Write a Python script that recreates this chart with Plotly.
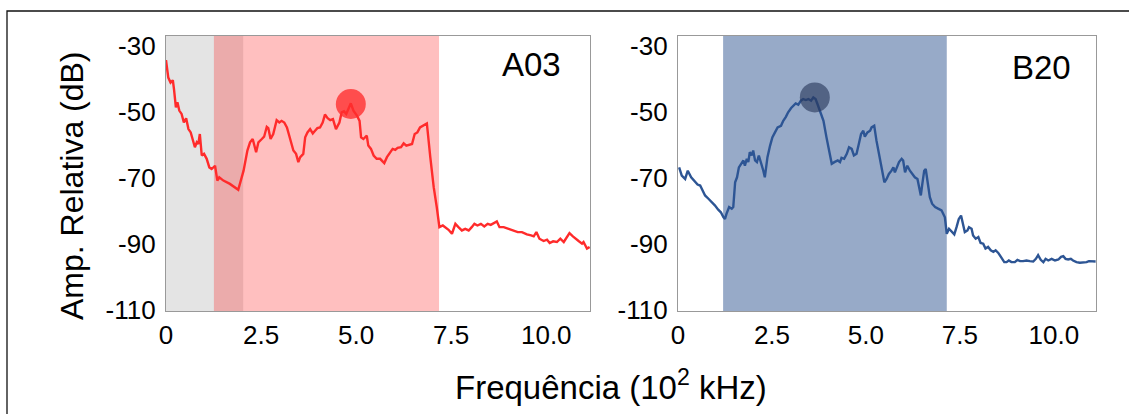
import plotly.graph_objects as go

# ---------------- data ----------------
a03_x = [0.00, 0.06, 0.12, 0.18, 0.21, 0.26, 0.30, 0.35, 0.41, 0.47, 0.53, 0.59, 0.65, 0.70, 0.76, 0.81, 0.85, 0.89, 0.94, 1.00,
         1.07, 1.14, 1.20, 1.29, 1.35, 1.40, 1.51, 1.68, 1.90, 2.04, 2.14, 2.21, 2.28, 2.37, 2.43, 2.52, 2.58, 2.65, 2.69, 2.75,
         2.82, 2.91, 2.98, 3.04, 3.11, 3.18, 3.26, 3.35, 3.42, 3.48, 3.53, 3.61, 3.66, 3.72, 3.79, 3.86, 3.92, 3.98, 4.05, 4.12,
         4.18, 4.25, 4.32, 4.39, 4.47, 4.56, 4.62, 4.68, 4.74, 4.80, 4.86, 4.93, 5.02, 5.09, 5.13, 5.19, 5.28, 5.32, 5.39, 5.46,
         5.54, 5.63, 5.74, 5.81, 5.89, 5.96, 6.03, 6.09, 6.18, 6.25, 6.32, 6.40, 6.47, 6.54, 6.61, 6.68, 6.77, 6.86, 6.95, 7.04,
         7.12, 7.19, 7.28, 7.37, 7.43, 7.52, 7.61, 7.69, 7.78, 7.87, 7.96, 8.04, 8.11, 8.19, 8.28, 8.37, 8.46, 8.54, 8.63, 8.70,
         8.77, 8.88, 9.01, 9.14, 9.25, 9.36, 9.49, 9.60, 9.67, 9.74, 9.82, 9.93, 10.02, 10.09, 10.18, 10.28, 10.37, 10.46, 10.54,
         10.61, 10.70, 10.79, 10.85, 10.94, 10.98, 11.07, 11.14]
a03_y = [-34.3, -39.6, -41.1, -40.4, -43.1, -48.6, -47.1, -49.6, -50.6, -53.2, -51.9, -55.2, -56.2, -58.2, -60.7, -59.2, -59.7, -56.7, -63.2, -62.7,
         -64.2, -66.8, -67.3, -66.3, -70.8, -69.8, -70.8, -71.8, -73.6, -67.8, -61.7, -59.2, -58.2, -62.2, -59.2, -58.2, -57.5, -54.5, -54.9, -58.2,
         -56.7, -52.5, -53.2, -52.7, -53.2, -54.7, -57.7, -61.7, -62.7, -65.2, -63.7, -62.7, -57.7, -56.2, -55.2, -56.5, -55.7, -54.9, -54.7, -53.2,
         -50.8, -51.9, -52.5, -52.2, -55.2, -53.2, -50.1, -49.8, -50.6, -49.1, -47.4, -49.6, -51.1, -52.7, -57.7, -58.2, -57.2, -60.2, -61.2, -63.2,
         -64.2, -64.2, -65.5, -63.7, -62.5, -61.2, -61.5, -60.9, -60.7, -59.5, -60.2, -59.9, -59.7, -56.7, -56.2, -54.7, -54.2, -53.5, -63.7, -72.8,
         -78.8, -84.9, -84.4, -85.1, -85.7, -86.9, -83.9, -84.9, -85.9, -85.4, -85.9, -84.9, -83.9, -84.4, -83.9, -84.7, -83.9, -84.2, -83.7, -83.2,
         -84.9, -84.9, -85.4, -85.9, -86.4, -86.4, -87.1, -87.4, -87.7, -86.4, -88.4, -89.1, -88.7, -89.7, -89.2, -89.4, -88.4, -89.4, -87.9,
         -86.7, -87.7, -88.7, -89.1, -89.9, -89.4, -91.4, -90.9]

b20_x = [0.03, 0.10, 0.19, 0.26, 0.35, 0.43, 0.52, 0.59, 0.65, 0.72, 0.81, 0.90, 0.98, 1.07, 1.14, 1.21, 1.25, 1.29, 1.36, 1.43,
         1.47, 1.52, 1.57, 1.62, 1.68, 1.74, 1.78, 1.83, 1.87, 1.91, 1.96, 2.00, 2.05, 2.10, 2.15, 2.21, 2.27, 2.31, 2.38, 2.45,
         2.51, 2.58, 2.65, 2.74, 2.80, 2.87, 2.93, 3.01, 3.07, 3.13, 3.20, 3.27, 3.33, 3.40, 3.47, 3.54, 3.60, 3.66, 3.71, 3.78,
         3.87, 3.95, 4.02, 4.09, 4.16, 4.25, 4.31, 4.35, 4.42, 4.49, 4.55, 4.62, 4.68, 4.75, 4.81, 4.87, 4.93, 4.97, 5.04, 5.11,
         5.15, 5.22, 5.28, 5.35, 5.42, 5.49, 5.55, 5.61, 5.68, 5.73, 5.77, 5.82, 5.88, 5.95, 5.99, 6.04, 6.10, 6.17, 6.23, 6.30,
         6.37, 6.44, 6.46, 6.50, 6.55, 6.59, 6.64, 6.70, 6.76, 6.84, 6.92, 7.01, 7.10, 7.15, 7.21, 7.28, 7.35, 7.41, 7.47, 7.53,
         7.59, 7.63, 7.70, 7.74, 7.81, 7.85, 7.92, 7.99, 8.05, 8.12, 8.18, 8.25, 8.32, 8.39, 8.45, 8.52, 8.59, 8.68, 8.74, 8.80,
         8.87, 8.96, 9.03, 9.10, 9.18, 9.27, 9.36, 9.45, 9.52, 9.58, 9.65, 9.72, 9.78, 9.85, 9.94, 10.03, 10.12, 10.19, 10.25, 10.31,
         10.38, 10.45, 10.51, 10.60, 10.69, 10.78, 10.87, 10.93, 11.00, 11.11]
b20_y = [-66.8, -69.3, -70.3, -67.8, -69.8, -70.8, -72.0, -72.3, -73.8, -75.3, -76.3, -77.3, -78.3, -79.6, -80.4, -81.9, -82.4, -80.9, -78.8, -79.3,
         -78.8, -71.3, -69.8, -66.8, -65.7, -64.7, -66.3, -64.2, -65.2, -62.2, -63.2, -61.7, -64.7, -65.2, -63.2, -65.2, -67.8, -69.8, -63.7, -60.2,
         -57.7, -56.2, -54.7, -54.2, -52.7, -51.5, -50.1, -48.8, -48.1, -47.4, -47.8, -46.6, -46.1, -46.4, -46.1, -46.6, -45.6, -46.1, -47.6, -49.6,
         -52.7, -57.7, -61.7, -65.7, -65.2, -64.7, -65.2, -63.9, -64.2, -62.7, -60.7, -61.2, -63.2, -62.7, -59.7, -56.7, -55.7, -57.5, -56.2, -55.7,
         -54.7, -54.2, -58.7, -63.2, -67.8, -71.3, -70.3, -68.8, -67.8, -66.8, -68.3, -66.8, -65.2, -64.2, -64.7, -68.3, -66.3, -67.8, -68.6, -69.8,
         -70.3, -73.8, -75.3, -71.8, -67.8, -67.3, -70.8, -75.8, -77.8, -78.8, -79.3, -79.8, -81.9, -86.9, -85.4, -86.4, -87.1, -84.9, -82.4, -81.4,
         -83.9, -86.4, -85.9, -84.9, -85.4, -87.4, -88.4, -87.9, -89.7, -89.9, -91.4, -90.9, -91.9, -92.4, -91.9, -92.7, -93.9, -95.5, -95.5, -95.0,
         -95.5, -95.5, -94.8, -95.2, -95.2, -95.0, -95.2, -95.3, -94.5, -93.4, -94.8, -95.5, -94.5, -95.0, -94.5, -95.0, -94.7, -93.9, -93.7, -94.5,
         -94.7, -94.5, -95.0, -95.5, -95.7, -95.7, -95.5, -95.2, -95.2, -95.3]

a03_peak = (4.86, -47.6)
b20_peak = (3.64, -45.6)

a03_gray_band = (0.0, 2.03)
a03_band = (1.26, 7.18)
b20_band = (1.20, 7.15)

x_ticks = [0, 2.5, 5.0, 7.5, 10.0]
x_tick_text = ["0", "2.5", "5.0", "7.5", "10.0"]
y_ticks = [-30, -50, -70, -90, -110]
y_tick_text = ["-30", "-50", "-70", "-90", "-110"]

labels = ["A03", "B20"]
x_title = "Frequência (10<sup>2</sup> kHz)"
y_title = "Amp. Relativa (dB)"

# ---------------- figure ----------------
W, H = 1129, 414
FONT = "Liberation Sans, Arial, sans-serif"
RED = "#ff2b2b"
BLUE = "#2d5594"

fig = go.Figure()

fig.add_trace(go.Scatter(x=a03_x, y=a03_y, mode="lines", line=dict(color=RED, width=2.4),
                         xaxis="x", yaxis="y", showlegend=False, hoverinfo="skip"))
fig.add_trace(go.Scatter(x=[a03_peak[0]], y=[a03_peak[1]], mode="markers",
                         marker=dict(size=30, color="rgba(255,45,45,0.78)", line=dict(width=0)),
                         xaxis="x", yaxis="y", showlegend=False, hoverinfo="skip"))
fig.add_trace(go.Scatter(x=b20_x, y=b20_y, mode="lines", line=dict(color=BLUE, width=2.4),
                         xaxis="x2", yaxis="y2", showlegend=False, hoverinfo="skip"))
fig.add_trace(go.Scatter(x=[b20_peak[0]], y=[b20_peak[1]], mode="markers",
                         marker=dict(size=30, color="rgba(40,55,90,0.62)", line=dict(width=0)),
                         xaxis="x2", yaxis="y2", showlegend=False, hoverinfo="skip"))

shapes = [
    dict(type="rect", xref="x", yref="y domain", x0=a03_gray_band[0], x1=a03_gray_band[1], y0=0, y1=1,
         fillcolor="#e4e4e4", line=dict(width=0), layer="below"),
    dict(type="rect", xref="x", yref="y domain", x0=a03_band[0], x1=a03_band[1], y0=0, y1=1,
         fillcolor="rgba(255,0,0,0.25)", line=dict(width=0), layer="below"),
    dict(type="rect", xref="x2", yref="y2 domain", x0=b20_band[0], x1=b20_band[1], y0=0, y1=1,
         fillcolor="#97aac8", line=dict(width=0), layer="below"),
    # outer frame
    dict(type="rect", xref="paper", yref="paper", x0=7 / W, x1=1.05, y0=-0.05, y1=1 - 11 / H,
         fillcolor="rgba(0,0,0,0)", line=dict(color="#111111", width=1.3)),
]

axis_common = dict(showgrid=False, zeroline=False, showline=True, linecolor="#999999", linewidth=1.2,
                   mirror=True, ticks="", automargin=False,
                   tickfont=dict(family=FONT, size=26, color="#000000"))

yd = [1 - 311 / H, 1 - 36 / H]

fig.update_layout(
    width=W, height=H,
    margin=dict(l=0, r=0, t=0, b=0, pad=0, autoexpand=False),
    paper_bgcolor="white", plot_bgcolor="white",
    xaxis=dict(domain=[166 / W, 590 / W], range=[0, 11.15], tickvals=x_ticks, ticktext=x_tick_text,
               anchor="y", ticklabelstandoff=1, **axis_common),
    yaxis=dict(domain=yd, range=[-110.3, -27], tickvals=y_ticks, ticktext=y_tick_text,
               anchor="x", ticklabelstandoff=4, **axis_common),
    xaxis2=dict(domain=[678 / W, 1096 / W], range=[0, 11.12], tickvals=x_ticks, ticktext=x_tick_text,
                anchor="y2", ticklabelstandoff=1, **axis_common),
    yaxis2=dict(domain=yd, range=[-110.3, -27], tickvals=y_ticks, ticktext=y_tick_text,
                anchor="x2", ticklabelstandoff=4, **axis_common),
    shapes=shapes,
    annotations=[
        dict(text=labels[0], xref="paper", yref="paper", x=531 / W, y=1 - 64 / H, showarrow=False,
             xanchor="center", yanchor="middle", font=dict(family=FONT, size=33, color="#000000")),
        dict(text=labels[1], xref="paper", yref="paper", x=1041 / W, y=1 - 67 / H, showarrow=False,
             xanchor="center", yanchor="middle", font=dict(family=FONT, size=33, color="#000000")),
        dict(text=x_title, xref="paper", yref="paper", x=611 / W, y=1 - 385 / H, showarrow=False,
             xanchor="center", yanchor="middle", font=dict(family=FONT, size=33, color="#000000")),
        dict(text=y_title, xref="paper", yref="paper", x=72 / W, y=1 - 186 / H, showarrow=False,
             textangle=-90, xanchor="center", yanchor="middle", font=dict(family=FONT, size=32, color="#000000")),
    ],
)

fig.write_html("out.html")
